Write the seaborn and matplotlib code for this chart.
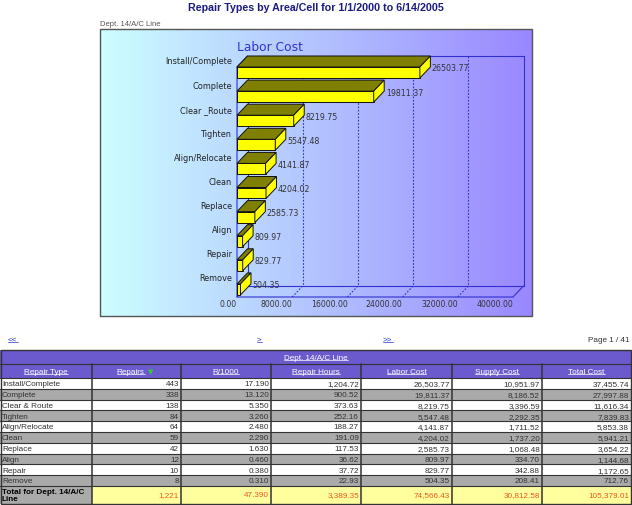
import numpy as np
import matplotlib
matplotlib.use("Agg")
import matplotlib.pyplot as plt
from matplotlib.patches import Polygon, Rectangle
import seaborn as sns

# chart data: labor cost per repair type
chart_types = ["Install/Complete", "Complete", "Clear _Route", "Tighten", "Align/Relocate",
               "Clean", "Replace", "Align", "Repair", "Remove"]
labor_cost = [26503.77, 19811.37, 8219.75, 5547.48, 4141.87, 4204.02, 2585.73, 809.97, 829.77, 504.35]
x_ticks = [0, 8000, 16000, 24000, 32000, 40000]

# table data
table_types = ["Install/Complete", "Complete", "Clear & Route", "Tighten", "Align/Relocate",
               "Clean", "Replace", "Align", "Repair", "Remove"]
repairs = [443, 338, 138, 84, 64, 59, 42, 12, 10, 8]
r_per_1000 = [17.190, 13.120, 5.350, 3.260, 2.480, 2.290, 1.630, 0.460, 0.380, 0.310]
repair_hours = [1204.72, 900.52, 373.63, 252.16, 188.27, 191.09, 117.53, 36.62, 37.72, 22.93]
supply_cost = [10951.97, 8186.52, 3396.59, 2292.35, 1711.52, 1737.20, 1068.48, 334.70, 342.88, 208.41]
total_cost = [37455.74, 27997.88, 11616.34, 7839.83, 5853.38, 5941.21, 3654.22, 1144.68, 1172.65, 712.76]
totals = ["1,221", "47.390", "3,389.35", "74,566.43", "30,812.58", "105,379.01"]
columns = ["Repair Type", "Repairs", "R/1000", "Repair Hours", "Labor Cost", "Supply Cost", "Total Cost"]

sns.set_style("white")
plt.rcParams["font.family"] = ["DejaVu Sans"]

W, H = 632, 506
fig = plt.figure(figsize=(W / 100, H / 100), dpi=100)

# overlay axes in pixel coordinates (background panel, table, texts)
ov = fig.add_axes([0, 0, 1, 1])
ov.set_xlim(0, W)
ov.set_ylim(H, 0)
ov.axis("off")

# gradient panel
c0 = np.array([0.80, 1.00, 1.00])
c1 = np.array([0.60, 0.53, 1.00])
grad = np.linspace(0, 1, 256)[None, :, None]
img = c0 + (c1 - c0) * grad
ov.imshow(img, extent=(100, 532, 317, 30), aspect="auto", zorder=0)
ov.add_patch(Rectangle((100, 30), 432, 287, fill=False, ec="#555555", lw=1, zorder=1))

ov.text(316, 8, "Repair Types by Area/Cell for 1/1/2000 to 6/14/2005", ha="center", va="center",
        fontsize=7.7, fontweight="bold", color="#1a1a80", family="Liberation Sans")
ov.text(100, 24, "Dept. 14/A/C Line", ha="left", va="center", fontsize=5.5,
        color="#555555", family="Liberation Sans")
ov.text(237, 47, "Labor Cost", ha="left", va="center", fontsize=8.8, color="#3333cc")

# chart axes
ax = fig.add_axes([237 / W, 1 - 298 / H, 276 / W, 230 / H])
ax.patch.set_alpha(0)
sns.barplot(x=labor_cost, y=chart_types, orient="h", color="#ffff00", saturation=1,
            edgecolor="#111111", linewidth=0.7, width=0.456, ax=ax, zorder=3)
ax.set_xlim(0, 40000)
ax.set_ylim(9.315, -0.228)
for s in ax.spines.values():
    s.set_visible(False)
ax.set_xlabel("")
ax.set_ylabel("")
ax.set_yticks([])
ax.set_xticks(x_ticks, labels=[f"{t:.2f}" for t in x_ticks])
for lbl in ax.get_xticklabels():
    lbl.set_ha("right")
ax.tick_params(axis="x", length=0, pad=1.5, labelsize=5.6, labelcolor="#333333")

px_x = 40000 / 276
px_y = 9.543 / 230
dxd = 10.5 * px_x
dyd = 11 * px_y
yft, yfb = -0.228, 9.315
ybt, ybb = yft - dyd, yfb - dyd
blue = "#3030d0"
kw = dict(color=blue, lw=0.8, clip_on=False, zorder=1)
ax.plot([dxd, 40000 + dxd, 40000 + dxd, dxd, dxd], [ybt, ybt, ybb, ybb, ybt], **kw)
ax.plot([0, 0, 40000, 40000 + dxd], [yft, yfb, yfb, ybb], **kw)
ax.plot([0, dxd], [yft, ybt], **kw)
ax.plot([0, dxd], [yfb, ybb], **kw)
for t in x_ticks[1:-1]:
    ax.plot([t + dxd, t + dxd], [ybt, ybb], color=blue, lw=0.8, ls=(0, (1.5, 1.5)), clip_on=False, zorder=1)
    ax.plot([t, t + dxd], [yfb, ybb], color=blue, lw=0.8, ls=(0, (1.5, 1.5)), clip_on=False, zorder=1)

# 3D faces on each bar
for p, v in zip(list(ax.patches), labor_cost):
    x0, w = p.get_x(), p.get_width()
    y0, h = p.get_y(), p.get_height()
    top, bot = min(y0, y0 + h), max(y0, y0 + h)
    ax.add_patch(Polygon([(x0, top), (x0 + w, top), (x0 + w + dxd, top - dyd), (x0 + dxd, top - dyd)],
                         closed=True, fc="#808000", ec="#111111", lw=0.7, clip_on=False, zorder=3))
    ax.add_patch(Polygon([(x0 + w, top), (x0 + w + dxd, top - dyd), (x0 + w + dxd, bot - dyd), (x0 + w, bot)],
                         closed=True, fc="#ffff00", ec="#111111", lw=0.7, clip_on=False, zorder=3))
    ax.text(x0 + w + 12 * px_x, (top + bot) / 2 - 4.5 * px_y, f"{v:.2f}", ha="left", va="center",
            fontsize=5.7, color="#333333", clip_on=False, zorder=4)

for i, name in enumerate(chart_types):
    ax.text(-5 * px_x, i - 11.5 * px_y, name, ha="right", va="center", fontsize=5.9,
            color="#222222", clip_on=False)

# navigation line
tf = dict(family="Liberation Sans", fontsize=5.9)
links = []
links.append(ov.text(8, 340, "<<", ha="left", va="center", color="#2233cc", **tf))
links.append(ov.text(257, 340, ">", ha="left", va="center", color="#2233cc", **tf))
links.append(ov.text(383, 340, ">>", ha="left", va="center", color="#2233cc", **tf))
ov.text(630, 340, "Page 1 / 41", ha="right", va="center", color="#333333", **tf)

# table
col_edges = [0, 92, 181, 271, 361, 452, 542, 631]
head_col = "#6a5acd"
gray = "#aaaaaa"
line_col = "#333333"
row_h = 10.8
y_h1, y_h2, y_d = 351, 365, 379
y_tot = y_d + 10 * row_h
y_end = 505

ov.add_patch(Rectangle((0, y_h1), 631, y_d - y_h1, fc=head_col, ec="none", zorder=1))
links.append(ov.text(316, (y_h1 + y_h2) / 2, "Dept. 14/A/C Line", ha="center", va="center",
                     color="white", **tf))
for j, name in enumerate(columns):
    cx = (col_edges[j] + col_edges[j + 1]) / 2
    if name == "Repairs":
        links.append(ov.text(cx + 8, (y_h2 + y_d) / 2, name, ha="right", va="center", color="white", **tf))
        ov.text(cx + 11, (y_h2 + y_d) / 2, "\u25bc", ha="left", va="center", color="#33cc33",
                fontsize=5, family="DejaVu Sans")
    else:
        links.append(ov.text(cx, (y_h2 + y_d) / 2, name, ha="center", va="center", color="white", **tf))

rows = list(zip(table_types, repairs, r_per_1000, repair_hours, labor_cost, supply_cost, total_cost))
for i, r in enumerate(rows):
    y0 = y_d + i * row_h
    ov.add_patch(Rectangle((0, y0), 631, row_h, fc="white" if i % 2 == 0 else gray, ec="none", zorder=1))
    cells = [r[0], f"{r[1]:,}", f"{r[2]:.3f}", f"{r[3]:,.2f}", f"{r[4]:,.2f}", f"{r[5]:,.2f}", f"{r[6]:,.2f}"]
    yc = y0 + row_h / 2 + 0.3
    for j, txt in enumerate(cells):
        if j == 0:
            ov.text(2, yc, txt, ha="left", va="center", color="#333333", zorder=3, **tf)
        else:
            ov.text(col_edges[j + 1] - 2, yc, txt, ha="right", va="center", color="#333333", zorder=3, **tf)

ov.add_patch(Rectangle((0, y_tot), col_edges[1], y_end - y_tot, fc=gray, ec="none", zorder=1))
ov.add_patch(Rectangle((col_edges[1], y_tot), 631 - col_edges[1], y_end - y_tot, fc="#ffff9e", ec="none", zorder=1))
ov.text(2, (y_tot + y_end) / 2, "Total for Dept. 14/A/C\nLine", ha="left", va="center", color="black",
        fontweight="bold", linespacing=0.95, zorder=3, **tf)
for j, txt in enumerate(totals):
    ov.text(col_edges[j + 2] - 2, (y_tot + y_end) / 2, txt, ha="right", va="center", color="#ee5522",
            zorder=3, **tf)

# grid lines of the table
for y in [y_h2, y_d] + [y_d + i * row_h for i in range(1, 11)]:
    ov.plot([0, 631], [y, y], color=line_col, lw=0.8, zorder=2)
for x in col_edges[1:-1]:
    ov.plot([x, x], [y_h2, y_end], color=line_col, lw=1.1, zorder=2)
ov.add_patch(Rectangle((0.5, y_h1), 630.5, y_end - y_h1, fill=False, ec=line_col, lw=1.0, zorder=2))

# underline the link texts
fig.canvas.draw()
inv = ov.transData.inverted()
for t in links:
    bb = t.get_window_extent()
    (xa, ya), (xb, yb) = inv.transform([(bb.x0, bb.y0), (bb.x1, bb.y1)])
    ov.plot([xa, xb], [ya - 0.5, ya - 0.5], color=t.get_color(), lw=0.5, zorder=3)

fig.savefig("out.png", dpi=100)
